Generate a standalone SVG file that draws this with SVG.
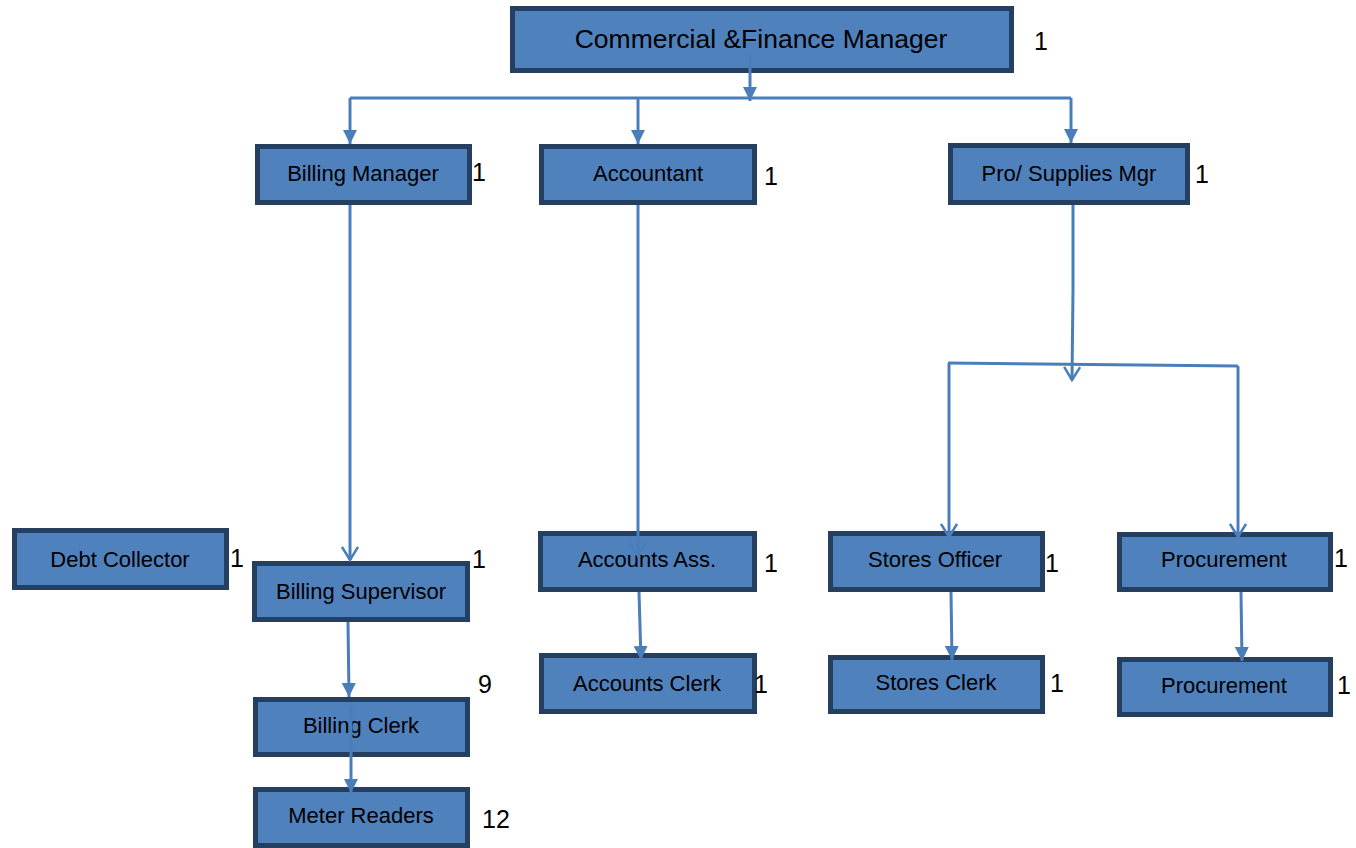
<svg xmlns="http://www.w3.org/2000/svg" width="1356" height="848" viewBox="0 0 1356 848">
<style>
.box{fill:#4F81BD;stroke:#243F60;stroke-width:5}
.lbl{font-family:"Liberation Sans",Arial,sans-serif;font-size:22px;fill:#000;text-anchor:middle}
.ttl{font-family:"Liberation Sans",Arial,sans-serif;font-size:26.5px;fill:#000;text-anchor:middle}
.num{font-family:"Liberation Sans",Arial,sans-serif;font-size:25px;fill:#000}
.con{fill:none;stroke:#4A7EBB;stroke-width:3}
</style>
<defs>
<marker id="fa" viewBox="0 0 14 14" refX="14" refY="7" markerWidth="14" markerHeight="14" markerUnits="userSpaceOnUse" orient="auto">
<path d="M0,0 L14,7 L0,14 z" fill="#4A7EBB"/>
</marker>
<marker id="oa" viewBox="0 0 16 18" refX="14" refY="9" markerWidth="16" markerHeight="18" markerUnits="userSpaceOnUse" orient="auto">
<path d="M1,1 L14,9 L1,17" fill="none" stroke="#4A7EBB" stroke-width="2.5"/>
</marker>
</defs>
<rect width="1356" height="848" fill="#fff"/>

<g id="commercial">
<rect class="box" x="512.5" y="8.5" width="499" height="62"/>
<text class="ttl" x="761" y="48">Commercial &amp;Finance Manager</text>
<text class="num" x="1034" y="50">1</text>
</g>
<g id="billing-manager">
<rect class="box" x="257.5" y="146.5" width="212" height="56"/>
<text class="lbl" x="363" y="181">Billing Manager</text>
<text class="num" x="472" y="181">1</text>
</g>
<g id="accountant">
<rect class="box" x="541.5" y="146.5" width="213" height="56"/>
<text class="lbl" x="648" y="181">Accountant</text>
<text class="num" x="764" y="185">1</text>
</g>
<g id="pro-supplies">
<rect class="box" x="950.5" y="145.5" width="237" height="57"/>
<text class="lbl" x="1069" y="181">Pro/ Supplies Mgr</text>
<text class="num" x="1195" y="183">1</text>
</g>
<g id="debt-collector">
<rect class="box" x="14.5" y="530.5" width="212" height="57"/>
<text class="lbl" x="120" y="567">Debt Collector</text>
<text class="num" x="230" y="567">1</text>
</g>
<g id="billing-supervisor">
<rect class="box" x="254.5" y="563.5" width="213" height="56"/>
<text class="lbl" x="361" y="599">Billing Supervisor</text>
<text class="num" x="472" y="568">1</text>
</g>
<g id="billing-clerk">
<rect class="box" x="255.5" y="699.5" width="212" height="55"/>
<text class="lbl" x="361" y="733">Billing Clerk</text>
<text class="num" x="478" y="693">9</text>
</g>
<g id="meter-readers">
<rect class="box" x="255.5" y="789.5" width="212" height="56"/>
<text class="lbl" x="361" y="823">Meter Readers</text>
<text class="num" x="482" y="828">12</text>
</g>
<g id="accounts-ass">
<rect class="box" x="540.5" y="533.5" width="214" height="56"/>
<text class="lbl" x="647" y="567">Accounts Ass.</text>
<text class="num" x="764" y="572">1</text>
</g>
<g id="accounts-clerk">
<rect class="box" x="541.5" y="655.5" width="213" height="56"/>
<text class="lbl" x="647" y="691">Accounts Clerk</text>
<text class="num" x="754" y="693">1</text>
</g>
<g id="stores-officer">
<rect class="box" x="830.5" y="533.5" width="212" height="56"/>
<text class="lbl" x="935" y="567">Stores Officer</text>
<text class="num" x="1045" y="572">1</text>
</g>
<g id="stores-clerk">
<rect class="box" x="830.5" y="657.5" width="212" height="54"/>
<text class="lbl" x="936" y="690">Stores Clerk</text>
<text class="num" x="1050" y="692">1</text>
</g>
<g id="procurement-1">
<rect class="box" x="1119.5" y="534.5" width="211" height="55"/>
<text class="lbl" x="1224" y="567">Procurement</text>
<text class="num" x="1334" y="567">1</text>
</g>
<g id="procurement-2">
<rect class="box" x="1119.5" y="659.5" width="211" height="55"/>
<text class="lbl" x="1224" y="693">Procurement</text>
<text class="num" x="1337" y="694">1</text>
</g>

<g id="connectors">
<path class="con" d="M750,55 V101" marker-end="url(#fa)"/>
<path class="con" d="M350,98 H1071"/>
<path class="con" d="M350,98 V144" marker-end="url(#fa)"/>
<path class="con" d="M638,98 V144" marker-end="url(#fa)"/>
<path class="con" d="M1071,98 V143" marker-end="url(#fa)"/>
<path class="con" d="M350,205 V560" marker-end="url(#oa)"/>
<path class="con" d="M638,205 V556" marker-end="url(#oa)"/>
<path class="con" d="M639,592 L641,660" marker-end="url(#fa)"/>
<path class="con" d="M1073,205 V290 L1072,380" marker-end="url(#oa)"/>
<path class="con" d="M948,363 L1238,366"/>
<path class="con" d="M949,363 V537" marker-end="url(#oa)"/>
<path class="con" d="M1238,366 V537" marker-end="url(#oa)"/>
<path class="con" d="M951,592 L952,660" marker-end="url(#fa)"/>
<path class="con" d="M1241,592 L1242,661" marker-end="url(#fa)"/>
<path class="con" d="M348,622 L349,697" marker-end="url(#fa)"/>
<path class="con" d="M351,705 V793" marker-end="url(#fa)"/>
</g>
</svg>
